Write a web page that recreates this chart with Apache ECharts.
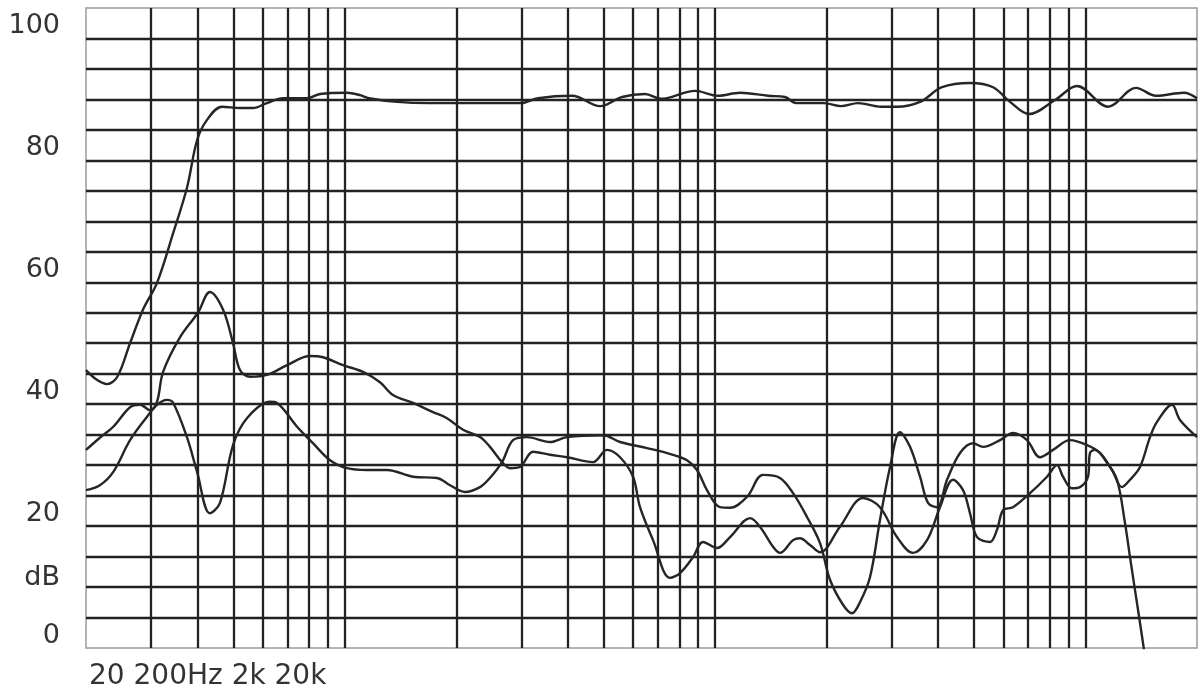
<!DOCTYPE html>
<html>
<head>
<meta charset="utf-8">
<script src="https://cdn.jsdelivr.net/npm/echarts@6/dist/echarts.min.js"></script>
<style>
html,body{margin:0;padding:0;background:#fff;}
#chart{width:1204px;height:698px;}
</style>
</head>
<body>
<div id="chart"></div>
<script>
// Frequency (Hz) / level (dB) pairs
const curveOnAxis = [
  [20,43.6],[21.4,42.0],[22.8,41.3],[24.3,42.5],[26.3,48.0],[28.5,53.5],[31.1,57.9],[34.4,66.1],
  [37.5,73.6],[39.9,81.3],[42.4,84.6],[46.6,86.8],[52.1,86.6],[56.5,86.6],[61.6,87.4],[68.1,88.2],
  [79.0,88.2],[85.7,88.9],[101.3,89.1],[109.9,88.7],[116.2,88.2],[138.3,87.6],[169.8,87.4],[203.3,87.4],
  [299.0,87.4],[332.3,88.2],[410.5,88.6],[488.7,86.9],[560.3,88.4],[646.5,88.9],[714.1,88.1],[882.1,89.4],
  [1018,88.6],[1167,89.1],[1389,88.6],[1544,88.4],[1653,87.4],[1967,87.4],[2186,86.9],[2431,87.4],
  [2804,86.8],[3097,86.8],[3574,87.6],[4097,90.0],[4877,90.7],[5628,90.0],[6254,87.6],[7038,85.6],
  [8272,87.9],[9484,90.2],[11500,86.8],[13688,89.9],[15498,88.6],[18445,89.1],[20000,88.2]
];
const curveSecond = [
  [20,30.5],[21.8,32.5],[23.7,34.3],[26.3,37.5],[28.0,37.9],[29.8,37.0],[31.1,38.4],[32.3,43.3],
  [35.9,49.0],[40.1,53.0],[43.2,56.4],[46.9,53.5],[49.9,48.0],[52.1,43.6],[55.5,42.5],[61.6,42.8],
  [69.8,44.4],[80.5,45.9],[87.3,45.7],[98.9,44.4],[112.0,43.3],[124.4,41.6],[134.9,39.5],[152.8,38.2],
  [173.0,36.7],[188.7,35.7],[208.5,33.8],[231.7,32.6],[246.5,31.0],[265.7,28.5],[279.2,27.5],[297.1,27.7],
  [322.1,30.2],[358.0,29.7],[397.9,29.3],[467.8,28.5],[510.4,30.5],[553.4,29.3],[600.1,26.1],[626.7,21.1],
  [679.5,15.7],[755.1,9.5],[803.6,10.3],[871.2,12.9],[927.1,15.4],[1011,14.4],[1097,16.2],[1242,19.3],
  [1321,17.9],[1433,14.6],[1496,13.6],[1623,15.7],[1694,16.0],[1803,14.9],[1919,13.7],[2173,17.9],
  [2507,22.6],[2786,21.1],[3097,16.2],[3421,13.6],[3733,15.7],[4046,21.1],[4388,25.6],[4670,23.9],
  [4877,20.1],[5094,16.2],[5523,15.4],[5768,17.4],[5988,20.6],[6372,21.1],[7082,23.4],[7871,26.1],
  [8375,28.0],[8694,26.1],[9194,24.2],[9663,24.4],[10156,26.1],[10282,30.0],[10608,30.5],[11429,28.4],
  [12162,25.6],[12782,18.5],[13187,12.9],[13603,7.5],[14033,2.1],[14386,-2.3]
];
const curveThird = [
  [20,23.9],[21.8,24.7],[23.7,26.9],[26.3,32.1],[29.2,35.9],[31.1,37.9],[33.1,38.7],[34.4,38.2],
  [37.5,32.5],[39.9,26.9],[43.2,20.1],[46.0,21.8],[49.9,31.3],[54.4,35.7],[62.8,38.4],[65.6,38.2],
  [74.3,34.3],[82.0,31.6],[91.2,28.8],[101.3,27.5],[114.8,27.2],[130.0,27.2],[152.8,26.1],[177.4,25.9],
  [192.3,24.7],[211.1,23.6],[231.7,24.4],[246.5,25.9],[265.7,28.5],[284.5,32.1],[310.3,32.6],[358.0,31.8],
  [397.9,32.6],[497.9,32.9],[553.4,31.8],[654.6,30.8],[769.4,29.7],[839.3,28.8],[893.2,27.2],[950.4,23.9],
  [1030,21.1],[1097,21.0],[1219,22.8],[1346,26.4],[1496,25.9],[1623,23.4],[1770,19.5],[1919,15.2],
  [2042,9.2],[2214,5.1],[2341,3.7],[2460,5.5],[2618,9.6],[2786,19.0],[2966,27.7],[3155,33.4],
  [3358,31.0],[3574,26.1],[3756,21.8],[3972,21.1],[4227,25.6],[4583,30.0],[4970,31.6],[5288,31.0],
  [5876,32.1],[6372,33.3],[6950,32.1],[7536,29.3],[8171,30.5],[9081,32.1],[10093,31.3],[10943,30.0],
  [11790,27.2],[12546,24.4],[13187,25.6],[14033,27.7],[14933,32.6],[15596,35.1],[17119,37.9],[17991,35.4],
  [20000,32.6]
];
// Vertical grid lines (Hz)
const gridFrequencies = [30,40,50,60,70,80,90,100,200,300,400,500,600,700,800,900,1000,
  2000,3000,4000,5000,6000,7000,8000,9000,10000];
// Y tick labels (dB)
const yTickValues = [0,20,40,60,80,100];
const yUnitText = 'dB';
const yUnitValue = 9.5;
const xCaption = '20 200Hz 2k 20k';

const FONT = '"DejaVu Sans", sans-serif';
const INK = '#222222';
const TEXT = '#333333';
const chart = echarts.init(document.getElementById('chart'), null, {renderer:'canvas'});

const lineSeries = (name, data, withGrid) => ({
  name, type:'line', data, smooth:0.35, symbol:'none', showSymbol:false,
  xAxisIndex:0, yAxisIndex:0, clip:true,
  lineStyle:{color:'#262626', width:2.4},
  markLine: withGrid ? {
    silent:true, symbol:['none','none'], animation:false,
    label:{show:false},
    lineStyle:{color:INK, width:2.3, type:'solid'},
    data: gridFrequencies.map(f => ({xAxis:f}))
  } : undefined
});

chart.setOption({
  animation:false,
  backgroundColor:'#ffffff',
  title:{
    text:xCaption, left:89, top:663, padding:0,
    textStyle:{fontFamily:FONT, fontSize:28, fontWeight:'normal', color:TEXT}
  },
  grid:{left:86, right:7, top:8, bottom:50, show:true, borderColor:'#9a9a9a', borderWidth:1.5, backgroundColor:'#fff'},
  xAxis:[{
    type:'log', logBase:10, min:20, max:20000,
    axisLine:{show:false}, axisTick:{show:false}, axisLabel:{show:false}, splitLine:{show:false}
  }],
  yAxis:[{
    type:'value', min:-2, max:103,
    axisLine:{show:false}, axisTick:{show:false}, splitLine:{show:false},
    axisLabel:{
      show:true, margin:26, fontFamily:FONT, fontSize:27, color:TEXT,
      customValues: yTickValues.concat([yUnitValue]),
      formatter: v => (Math.abs(v - yUnitValue) < 1e-6 ? yUnitText : String(v))
    }
  },{
    type:'value', min:0, max:21, interval:1, position:'right',
    axisLine:{show:false}, axisTick:{show:false}, axisLabel:{show:false},
    splitLine:{show:true, showMinLine:false, showMaxLine:false, lineStyle:{color:INK, width:2.3, type:'solid'}}
  }],
  series:[
    lineSeries('on-axis', curveOnAxis, true),
    lineSeries('second', curveSecond, false),
    lineSeries('third', curveThird, false)
  ]
});
</script>
</body>
</html>
